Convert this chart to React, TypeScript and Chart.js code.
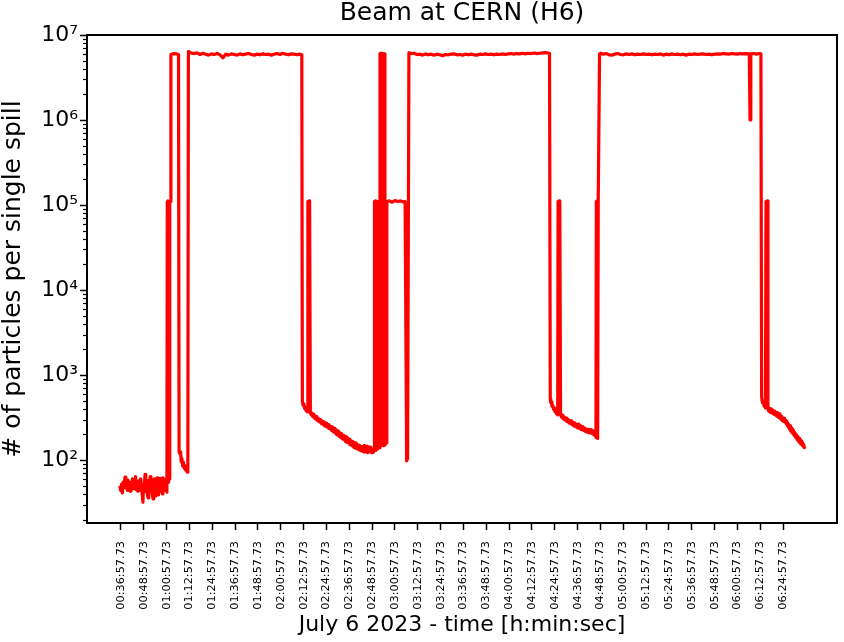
import React, { useEffect, useRef } from 'react';
import { Chart, registerables } from 'chart.js';

Chart.register(...registerables);

// ---- tick labels ----
const xTickLabels = [
  '00:36:57.73', '00:48:57.73', '01:00:57.73', '01:12:57.73', '01:24:57.73',
  '01:36:57.73', '01:48:57.73', '02:00:57.73', '02:12:57.73', '02:24:57.73',
  '02:36:57.73', '02:48:57.73', '03:00:57.73', '03:12:57.73', '03:24:57.73',
  '03:36:57.73', '03:48:57.73', '04:00:57.73', '04:12:57.73', '04:24:57.73',
  '04:36:57.73', '04:48:57.73', '05:00:57.73', '05:12:57.73', '05:24:57.73',
  '05:36:57.73', '05:48:57.73', '06:00:57.73', '06:12:57.73', '06:24:57.73',
];
const yTickValues = [1e2, 1e3, 1e4, 1e5, 1e6, 1e7];

// axis limits (minutes since 00:00:00, particles per spill)
const xMin = 19.1;
const xMax = 413.3;
const yMin = 18.2;
const yMax = 1e7;

// ---- data: [time in minutes since 00:00, particles per single spill] ----
const noBeam: [number, number][] = [
  [36.4, 50], [36.8, 44], [37.2, 52], [37.7, 41], [38.1, 55], [38.5, 48], [39.1, 63],
  [39.5, 47], [39.9, 53], [40.3, 44], [40.6, 58], [41.0, 46], [41.4, 55], [41.8, 43],
  [42.2, 52], [42.6, 47], [43.0, 60], [43.4, 46], [43.8, 56], [44.2, 49], [44.6, 64],
  [45.0, 45], [45.4, 55], [45.8, 43], [46.2, 57], [46.6, 50], [46.9, 44], [47.3, 60],
  [47.7, 50], [48.1, 40], [48.5, 32], [48.8, 52], [49.1, 42], [49.6, 68], [50.0, 46],
  [50.4, 55], [50.8, 40], [51.2, 36], [51.6, 58], [51.9, 46], [52.3, 64], [52.7, 50],
  [53.0, 60], [53.3, 42], [53.8, 35], [54.2, 52], [54.6, 60], [55.0, 44], [55.4, 38],
  [55.9, 62], [56.3, 48], [56.7, 39], [57.1, 55], [57.5, 61], [57.9, 43], [58.3, 52],
  [58.7, 40], [59.0, 62], [59.4, 47], [59.8, 57], [60.2, 44], [60.6, 60], [61.1, 42],
];

const firstSpills: [number, number][] = [
  [61.3, 1.1e5], [61.6, 1.12e5], [61.8, 55], [62.0, 1.1e5], [62.3, 1.1e5], [62.5, 60],
  [62.7, 1.1e5], [62.9, 1.1e5], [63.2, 5.9e6], [64.0, 6.0e6], [65.0, 6.05e6],
  [66.0, 6.0e6], [67.2, 5.9e6], [67.5, 125], [68.0, 118], [68.3, 126], [68.6, 96],
  [69.0, 104], [69.4, 85], [69.8, 94], [70.2, 80], [70.6, 86], [71.0, 76], [71.4, 84],
  [71.8, 72], [72.1, 78],
];

const plateauA: [number, number][] = [
  [72.4, 6.4e6], [73.5, 6.2e6], [75, 6.05e6], [77, 6.15e6], [78.5, 5.9e6], [80, 6.1e6],
  [81.5, 5.95e6], [83, 5.8e6], [84.5, 6.0e6], [86, 5.9e6], [87.5, 6.05e6], [89, 5.85e6],
  [90.6, 5.4e6], [92, 5.95e6], [93.5, 5.8e6], [95, 6.0e6], [96.5, 5.9e6], [98, 5.8e6],
  [99.5, 6.0e6], [101, 5.85e6], [102.5, 5.95e6], [104, 6.05e6], [105.5, 5.9e6],
  [107, 5.8e6], [108.5, 5.95e6], [110, 5.85e6], [111.5, 6.0e6], [113, 5.9e6],
  [114.5, 5.95e6], [116, 5.8e6], [117.5, 5.95e6], [119, 6.05e6], [120.5, 5.9e6],
  [122, 6.1e6], [123.5, 5.95e6], [125, 5.85e6], [126.5, 6.0e6], [128, 5.95e6],
  [129.5, 5.85e6], [131, 5.95e6], [132.0, 5.85e6],
];

const decayA: [number, number][] = [
  [132.3, 500], [132.7, 440], [133.1, 460], [133.5, 405], [133.9, 415], [134.3, 380],
  [134.7, 395], [135.0, 370], [135.2, 1.1e5], [136.1, 1.12e5], [136.5, 365],
  [136.9, 340], [137.2, 360], [137.6, 330], [137.9, 348], [138.3, 318], [138.7, 335],
  [139.1, 305], [139.5, 325], [139.9, 296], [140.2, 312], [140.6, 288], [141.0, 305],
  [141.4, 282], [141.8, 300], [142.2, 270], [142.6, 290], [143.0, 265], [143.4, 284],
  [143.8, 255], [144.2, 275], [144.6, 250], [145.0, 272], [145.4, 245], [145.8, 262],
  [146.2, 236], [146.6, 255], [147.0, 232], [147.4, 248], [147.8, 222], [148.2, 245],
  [148.6, 215], [149.0, 236], [149.4, 210], [149.8, 230], [150.2, 200], [150.5, 222],
  [150.9, 196], [151.3, 218], [151.7, 190], [152.1, 208], [152.5, 184], [152.9, 205],
  [153.3, 178], [153.7, 196], [154.1, 175], [154.5, 192], [154.9, 166], [155.3, 188],
  [155.7, 162], [156.1, 180], [156.5, 160], [156.9, 176], [157.3, 152], [157.7, 170],
  [158.1, 150], [158.4, 166], [158.8, 145], [159.2, 162], [159.6, 140], [160.0, 160],
  [160.4, 138], [160.8, 156], [161.2, 135], [161.6, 150], [162.0, 132], [162.4, 148],
  [162.8, 130], [163.1, 145], [163.5, 128], [163.9, 142], [164.3, 126], [164.7, 148],
  [165.1, 124], [165.5, 140], [165.9, 125], [166.3, 145], [166.7, 122], [167.1, 138],
  [167.5, 126], [167.9, 142], [168.3, 124], [168.6, 130], [169.0, 122], [169.3, 134],
  [169.7, 125], [170.0, 130],
];

const middleSpills: [number, number][] = [
  [170.2, 1.1e5], [170.6, 1.12e5], [170.9, 130], [171.2, 1.1e5], [171.6, 1.1e5],
  [171.9, 135], [172.2, 1.1e5], [172.5, 1.1e5], [172.8, 140], [173.1, 6.0e6],
  [173.5, 6.1e6], [173.8, 150], [174.1, 6.1e6], [174.5, 6.0e6], [174.8, 148],
  [175.1, 6.0e6], [175.4, 6.0e6], [175.7, 150], [176.3, 160], [176.7, 1.1e5],
  [178.0, 1.12e5], [179.5, 1.08e5], [181.0, 1.13e5], [182.5, 1.1e5], [184.0, 1.12e5],
  [185.2, 1.09e5], [186.3, 1.1e5], [187.1, 98], [187.6, 104],
];

const plateauB: [number, number][] = [
  [188.3, 6.2e6], [189.8, 6.05e6], [191, 6.1e6], [192.5, 5.9e6], [194, 5.95e6],
  [195.5, 5.8e6], [197, 6.0e6], [198.5, 5.85e6], [200, 5.95e6], [201.5, 5.8e6],
  [203, 5.95e6], [204.5, 5.85e6], [206, 5.7e6], [207.5, 5.9e6], [209, 5.85e6],
  [210.5, 5.95e6], [212, 6.0e6], [213.5, 5.85e6], [215, 5.9e6], [216.5, 5.8e6],
  [218, 5.95e6], [219.5, 5.85e6], [221, 5.95e6], [222.5, 5.85e6], [224, 5.8e6],
  [225.5, 5.95e6], [227, 5.9e6], [228.5, 6.0e6], [230, 5.9e6], [231.5, 5.95e6],
  [233, 5.85e6], [234.5, 5.95e6], [236, 5.9e6], [237.5, 6.0e6], [239, 5.9e6],
  [240.5, 6.0e6], [242, 6.05e6], [243.5, 5.95e6], [245, 6.05e6], [246.5, 6.0e6],
  [248, 6.1e6], [249.5, 6.0e6], [251, 6.1e6], [252.5, 6.05e6], [254, 6.15e6],
  [255.5, 6.05e6], [257, 6.1e6], [258.5, 6.15e6], [260, 6.2e6], [262.2, 6.1e6],
];

const decayB: [number, number][] = [
  [262.6, 520], [262.9, 470], [263.2, 480], [263.5, 430], [263.9, 440], [264.3, 398],
  [264.7, 410], [265.0, 372], [265.4, 385], [265.8, 352], [266.2, 365], [266.5, 340],
  [266.7, 1.1e5], [267.2, 1.12e5], [267.6, 1.1e5], [268.0, 345], [268.4, 322],
  [268.8, 338], [269.2, 310], [269.5, 328], [269.9, 300], [270.2, 318], [270.6, 295],
  [270.9, 312], [271.3, 285], [271.6, 305], [272.0, 280], [272.3, 298], [272.7, 272],
  [273.0, 290], [273.4, 268], [273.7, 292], [274.1, 260], [274.4, 280], [274.8, 255],
  [275.1, 275], [275.5, 250], [275.8, 268], [276.2, 245], [276.5, 262], [276.9, 240],
  [277.2, 265], [277.6, 238], [277.9, 258], [278.3, 235], [278.6, 252], [279.0, 228],
  [279.3, 248], [279.7, 226], [280.0, 242], [280.4, 222], [280.7, 238], [281.1, 218],
  [281.4, 232], [281.8, 214], [282.1, 228], [282.5, 212], [282.8, 230], [283.2, 208],
  [283.5, 224], [283.9, 210], [284.2, 228], [284.6, 205], [284.9, 222], [285.3, 200],
  [285.6, 218], [286.0, 195], [286.3, 205], [286.6, 185], [286.8, 1.1e5],
  [287.2, 1.12e5], [287.5, 180], [287.8, 1.1e5], [288.1, 1.1e5],
];

const plateauC: [number, number][] = [
  [288.5, 6.0e6], [289.2, 6.1e6], [290.5, 5.95e6], [292, 6.05e6], [293.5, 5.85e6],
  [295, 5.8e6], [296.5, 5.95e6], [298, 6.05e6], [299.5, 5.9e6], [301, 5.85e6],
  [302.5, 6.0e6], [304, 5.9e6], [305.5, 6.0e6], [307, 5.85e6], [308.5, 5.95e6],
  [310, 5.9e6], [311.5, 6.0e6], [313, 5.9e6], [314.5, 5.95e6], [316, 5.85e6],
  [317.5, 5.95e6], [319, 5.9e6], [320.5, 6.0e6], [322, 5.8e6], [323.5, 5.95e6],
  [325, 5.85e6], [326.5, 6.0e6], [328, 5.9e6], [329.5, 5.95e6], [331, 5.85e6],
  [332.5, 5.95e6], [334, 5.8e6], [335.5, 5.95e6], [337, 5.9e6], [338.5, 6.0e6],
  [340, 5.9e6], [341.5, 5.95e6], [343, 6.0e6], [344.5, 5.9e6], [346, 5.95e6],
  [347.5, 5.85e6], [349, 5.95e6], [350.5, 6.0e6], [352, 5.95e6], [353.5, 6.05e6],
  [355, 6.0e6], [356.5, 5.95e6], [358, 6.05e6], [359.5, 6.0e6], [361, 5.95e6],
  [362.5, 6.05e6], [364, 6.0e6], [365.5, 6.05e6], [367.2, 6.0e6], [367.6, 1.0e6],
  [368.0, 6.0e6], [369.5, 6.05e6], [371, 5.95e6], [372.3, 6.05e6], [373.3, 6.0e6],
];

const decayC: [number, number][] = [
  [373.7, 560], [373.9, 500], [374.2, 470], [374.6, 480], [375.0, 430], [375.4, 440],
  [375.7, 410], [376.0, 1.1e5], [376.6, 1.12e5], [377.0, 400], [377.3, 380],
  [377.6, 405], [377.9, 370], [378.2, 392], [378.5, 362], [378.8, 398], [379.1, 370],
  [379.4, 388], [379.7, 352], [380.0, 372], [380.3, 345], [380.6, 378], [380.9, 340],
  [381.2, 360], [381.5, 332], [381.8, 362], [382.1, 325], [382.4, 345], [382.7, 318],
  [383.0, 350], [383.3, 312], [383.6, 330], [383.9, 300], [384.2, 328], [384.6, 292],
  [384.9, 315], [385.2, 285], [385.5, 310], [385.8, 280], [386.1, 298], [386.5, 270],
  [386.8, 290], [387.1, 255], [387.4, 275], [387.7, 245], [388.0, 262], [388.3, 232],
  [388.6, 252], [388.9, 222], [389.2, 240], [389.5, 212], [389.8, 230], [390.1, 205],
  [390.4, 222], [390.7, 196], [391.0, 212], [391.3, 188], [391.6, 204], [391.9, 180],
  [392.2, 196], [392.5, 172], [392.8, 188], [393.1, 166], [393.4, 180], [393.7, 160],
  [394.0, 172], [394.3, 155], [394.6, 166], [394.9, 150], [395.2, 160], [395.5, 145],
  [395.8, 152], [396.1, 140], [396.5, 145],
];

const FONT = 'DejaVu Sans';
const SUP = ['⁰', '¹', '²', '³', '⁴', '⁵', '⁶', '⁷', '⁸', '⁹'];

function labelToMinutes(s: string): number {
  const [h, m, sec] = s.split(':').map(Number);
  return h * 60 + m + sec / 60;
}

const framePlugin = {
  id: 'frame',
  beforeDraw(chart: any) {
    const ctx = chart.ctx;
    ctx.save();
    ctx.fillStyle = '#ffffff';
    ctx.fillRect(0, 0, chart.width, chart.height);
    ctx.restore();
  },
  afterDatasetsDraw(chart: any) {
    const { ctx, chartArea: a, scales } = chart;
    const ys = scales.y;
    ctx.save();
    ctx.strokeStyle = '#000';
    ctx.lineWidth = 1.2;
    for (let e = 1; e < 7; e++) {
      for (let m = 2; m <= 9; m++) {
        const v = m * Math.pow(10, e);
        if (v < ys.min || v > ys.max) continue;
        const py = Math.round(ys.getPixelForValue(v)) + 0.5;
        ctx.beginPath();
        ctx.moveTo(a.left - 4, py);
        ctx.lineTo(a.left, py);
        ctx.stroke();
      }
    }
    ctx.lineWidth = 2;
    ctx.strokeRect(a.left, a.top, a.right - a.left, a.bottom - a.top);
    ctx.restore();
  },
};

export default function App() {
  const ref = useRef<HTMLCanvasElement | null>(null);

  useEffect(() => {
    if (!ref.current) return;
    const series = [
      ...noBeam, ...firstSpills, ...plateauA, ...decayA, ...middleSpills,
      ...plateauB, ...decayB, ...plateauC, ...decayC,
    ].map(([x, y]) => ({ x, y }));
    const xTickValues = xTickLabels.map(labelToMinutes);

    const grid = {
      display: true,
      drawOnChartArea: false,
      drawTicks: true,
      tickLength: 7,
      tickWidth: 1.5,
      tickColor: '#000',
    };

    const chart = new Chart(ref.current, {
      type: 'line',
      data: {
        datasets: [
          {
            data: series,
            borderColor: '#ff0000',
            borderWidth: 3.2,
            pointRadius: 0,
            fill: false,
            tension: 0,
            borderJoinStyle: 'round',
          },
        ],
      },
      options: {
        animation: false,
        responsive: false,
        maintainAspectRatio: false,
        devicePixelRatio: 1,
        layout: { padding: { left: 0, right: 7, top: 0, bottom: 0 } },
        plugins: {
          legend: { display: false },
          tooltip: { enabled: false },
          title: {
            display: true,
            text: 'Beam at CERN (H6)',
            color: '#000',
            fullSize: false,
            font: { family: FONT, size: 25, weight: 'normal', lineHeight: 1.1 },
            padding: { top: 0, bottom: 7.5 },
          },
        },
        scales: {
          x: {
            type: 'linear',
            min: xMin,
            max: xMax,
            afterBuildTicks: (s: any) => {
              s.ticks = xTickValues.map((v) => ({ value: v }));
            },
            afterFit: (s: any) => {
              s.height = 119;
            },
            ticks: {
              autoSkip: false,
              minRotation: 90,
              maxRotation: 90,
              padding: 11,
              color: '#000',
              font: { family: FONT, size: 11.3 },
              callback: (_v: any, i: number) => xTickLabels[i],
            },
            grid,
            border: { display: false },
            title: {
              display: true,
              text: 'July 6 2023 - time [h:min:sec]',
              color: '#000',
              font: { family: FONT, size: 22, lineHeight: 1 },
              padding: { top: 0, bottom: 6 },
            },
          },
          y: {
            type: 'logarithmic',
            min: yMin,
            max: yMax,
            afterBuildTicks: (s: any) => {
              s.ticks = yTickValues.map((v) => ({ value: v }));
            },
            afterFit: (s: any) => {
              s.width = 87;
            },
            ticks: {
              autoSkip: false,
              padding: 2,
              color: '#000',
              font: { family: FONT, size: 22 },
              callback: (v: any) => {
                const e = Math.round(Math.log10(Number(v)));
                return '10' + String(e).split('').map((d) => SUP[Number(d)]).join('');
              },
            },
            grid,
            border: { display: false },
            title: {
              display: true,
              text: '# of particles per single spill',
              color: '#000',
              font: { family: FONT, size: 25, lineHeight: 1 },
              padding: { top: 1, bottom: 0 },
            },
          },
        },
      } as any,
      plugins: [framePlugin],
    });
    return () => chart.destroy();
  }, []);

  return (
    <div style={{ position: 'fixed', left: 0, top: 0, width: 844, height: 642, background: '#fff' }}>
      <canvas ref={ref} width={844} height={642} />
    </div>
  );
}
